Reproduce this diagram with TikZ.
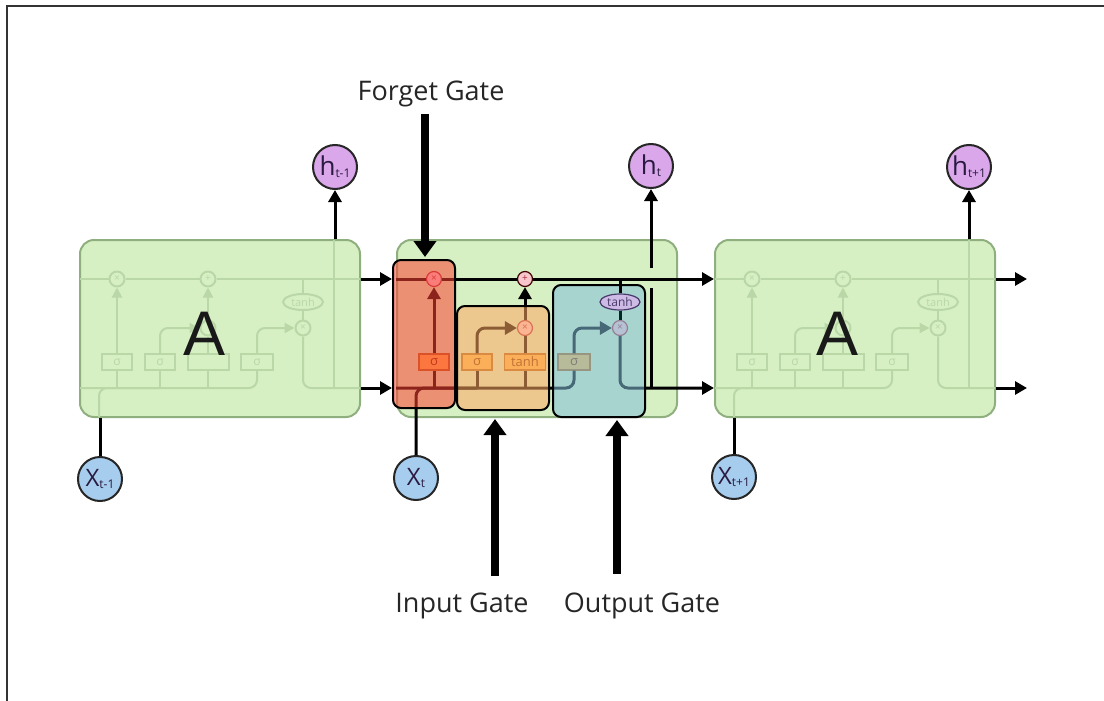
\documentclass[tikz,border=0pt]{standalone}
\usepackage{fontspec}
\setmainfont{Open Sans}
\newfontfamily\Afont{Liberation Sans}
\usetikzlibrary{arrows.meta,shapes.geometric,calc}

\definecolor{cellfill}{HTML}{D6F0C4}
\definecolor{cellline}{HTML}{8FAF7F}
\definecolor{faintcol}{HTML}{BAD7A7}
\definecolor{hpurple}{HTML}{D9A7EA}
\definecolor{xblue}{HTML}{A7CDEE}
\definecolor{oppink}{HTML}{F8C6CD}
\definecolor{opline}{HTML}{A8323F}
\definecolor{sigfill}{HTML}{F8B84E}
\definecolor{sigline}{HTML}{B0661A}
\definecolor{sigtext}{HTML}{7A3000}
\definecolor{tanhfill}{HTML}{CDBBE6}
\definecolor{tanhline}{HTML}{4A3A6C}
\definecolor{gred}{RGB}{255,66,52}
\definecolor{gorange}{RGB}{255,168,98}
\definecolor{gteal}{RGB}{131,190,218}
\definecolor{circtext}{HTML}{2A1A40}

\newcommand\subtxt[2]{#1\raisebox{-2pt}{\fontsize{12}{12}\selectfont #2}}

\tikzset{
  cellbox/.style={draw=cellline, fill=cellfill, line width=2pt, rounded corners=14pt,
    minimum width=280pt, minimum height=177pt, inner sep=0pt},
  conn/.style={line width=3pt, draw=black},
  arr/.style={conn, -{Triangle[length=12pt,width=13pt]}},
  gatearr/.style={line width=8pt, draw=black, -{Triangle[length=16pt,width=22pt]}},
  faint/.style={draw=faintcol, line width=2pt},
  faintarr/.style={faint, -{Triangle[length=10pt,width=10pt]}},
  hnode/.style={circle, draw=black!85, line width=2pt, fill=hpurple, minimum size=44pt,
    inner sep=0pt, text=circtext, font=\fontsize{26}{26}\selectfont},
  xnode/.style={circle, draw=black!85, line width=2pt, fill=xblue, minimum size=44pt,
    inner sep=0pt, text=circtext, font=\fontsize{24}{24}\selectfont},
  opnode/.style={circle, draw=opline, fill=oppink, line width=1.2pt, minimum size=15pt,
    inner sep=0pt, text=opline, font=\fontsize{10}{10}\selectfont},
  sigbox/.style={rectangle, draw=sigline, fill=sigfill, line width=1.2pt, minimum height=16pt,
    inner sep=0pt, text=sigtext, font=\fontsize{13}{13}\selectfont},
  tanhnode/.style={ellipse, draw=tanhline, fill=tanhfill, line width=1.2pt, minimum width=40pt,
    minimum height=16pt, inner sep=0pt, text=tanhline, font=\fontsize{12}{12}\selectfont},
  gatebox/.style={rectangle, rounded corners=8pt, draw=black, line width=2pt,
    fill opacity=0.55, draw opacity=1, inner sep=0pt},
  fopnode/.style={circle, faint, fill=cellfill, minimum size=15pt, inner sep=0pt,
    text=faintcol, font=\fontsize{10}{10}\selectfont},
  fsigbox/.style={rectangle, faint, fill=cellfill, minimum height=16pt, inner sep=0pt,
    text=faintcol, font=\fontsize{12}{12}\selectfont},
  fthnode/.style={ellipse, faint, fill=cellfill, minimum width=40pt, minimum height=16pt,
    inner sep=0pt, text=faintcol, font=\fontsize{11}{11}\selectfont},
  gatelabel/.style={font=\fontsize{27}{30}\selectfont, text=black!85, anchor=base},
  bigA/.style={font=\Afont\fontsize{63}{63}\selectfont, text=black!90},
}

\newcommand\ghostcell[1]{%
  \node[fopnode] (#1fm) at (434,279) {×};
  \node[fopnode] (#1pl) at (525,279) {+};
  \node[fopnode] (#1im) at (525,328) {};
  \node[fopnode] (#1om) at (620,328) {×};
  \node[fthnode] (#1th) at (620,302) {tanh};
  \node[fsigbox, minimum width=30pt] (#1s1) at (434,362) {σ};
  \node[fsigbox, minimum width=30pt] (#1s2) at (477,362) {σ};
  \node[fsigbox, minimum width=41pt] (#1s3) at (525,362) {};
  \node[fsigbox, minimum width=32pt] (#1s4) at (574,362) {σ};
  \coordinate (#1cw) at (397,279); \coordinate (#1ce) at (677,279);
  \coordinate (#1bw) at (397,388); \coordinate (#1be) at (677,388);
  \coordinate (#1xin) at (416,417); \coordinate (#1htop) at (651,240);
  \draw[faint] (#1cw) -- (#1fm) -- (#1pl) -- (#1ce);
  \draw[faint, rounded corners=8pt] (#1bw) -| (#1s4.south);
  \draw[faint] (#1s1.south |- #1bw) -- (#1s1.south);
  \draw[faintarr] (#1s1.north) -- (#1fm.south);
  \draw[faint] (#1s2.south |- #1bw) -- (#1s2.south);
  \draw[faintarr, rounded corners=8pt] (#1s2.north) |- (#1im.west);
  \draw[faint] (#1s3.south |- #1bw) -- (#1s3.south);
  \draw[faint] (#1s3.north) -- (#1im.south);
  \draw[faintarr] (#1im.north) -- (#1pl.south);
  \draw[faint] (#1th.north |- #1cw) -- (#1th.north);
  \draw[faint] (#1th.south) -- (#1om.north);
  \draw[faintarr, rounded corners=8pt] (#1s4.north) |- (#1om.west);
  \draw[faint, rounded corners=8pt] (#1om.south) |- (#1be);
  \draw[faint, rounded corners=8pt] (#1xin) |- (#1s2.south |- #1bw);
  \draw[faint] (#1htop) -- (#1htop |- #1bw);
}

\begin{document}
\begin{tikzpicture}[x=1pt, y=-1pt]
\useasboundingbox (0,0) rectangle (1104,701);

% frame
\coordinate (frBL) at (7,701);
\coordinate (frTL) at (7,6);
\coordinate (frTR) at (1104,6);
\draw[line width=2pt, black!80] (frBL) -- (frTL) -- (frTR);

% level coordinates
\coordinate (yc) at (0,279);
\coordinate (yb) at (0,388);

% cells
\node[cellbox] (cellL) at (220,328.5) {};
\node[cellbox] (cellM) at (537,328.5) {};
\node[cellbox] (cellR) at (855,328.5) {};

\begin{scope}[xshift=-317pt]
  \ghostcell{L}
\end{scope}
\begin{scope}[xshift=318pt]
  \ghostcell{R}
\end{scope}

\node[bigA] (Aleft) at (205,334) {A};
\node[bigA] (Aright) at (838,334) {A};

% middle cell elements
\node[opnode] (fmul) at (434,279) {×};
\node[opnode, draw=black!75!red] (plus) at (525,279) {+};
\node[opnode] (imul) at (525,328) {×};
\node[opnode] (omul) at (620,328) {×};
\node[sigbox, minimum width=30pt] (fsig) at (434,362) {σ};
\node[sigbox, minimum width=30pt] (isig) at (477,362) {σ};
\node[sigbox, minimum width=41pt] (itanh) at (525,362) {tanh};
\node[sigbox, minimum width=32pt] (osig) at (574,362) {σ};

% h / x nodes
\node[hnode] (hprev) at (335,167) {\subtxt{h}{t-1}};
\node[hnode] (ht) at (651,166) {\subtxt{h}{t}};
\node[hnode] (hnext) at (969,167) {\subtxt{h}{t+1}};
\node[xnode] (xprev) at (100,479) {\subtxt{X}{t-1}};
\node[xnode] (xt) at (416,478) {\subtxt{X}{t}};
\node[xnode] (xnext) at (734,477) {\subtxt{X}{t+1}};

\coordinate (hgapB) at (651,288);
\coordinate (hgapT) at (651,268);

\draw[conn] (cellM.west |- yc) -- (fmul);
\draw[conn] (fmul) -- (plus);
\draw[arr] (plus) -- (cellR.west |- yc);
\draw[conn, rounded corners=8pt] (cellM.west |- yb) -| (osig.south);
\draw[conn, rounded corners=8pt] (xt.north) |- (isig.south |- yb);
\draw[conn] (fsig.south |- yb) -- (fsig.south);
\draw[arr] (fsig.north) -- (fmul.south);
\draw[conn] (isig.south |- yb) -- (isig.south);
\draw[arr, rounded corners=8pt] (isig.north) |- (imul.west);
\draw[conn] (itanh.south |- yb) -- (itanh.south);
\draw[conn] (itanh.north) -- (imul.south);
\draw[arr] (imul.north) -- (plus.south);
\draw[arr, rounded corners=8pt] (osig.north) |- (omul.west);
\draw[arr, rounded corners=8pt] (omul.south) |- (cellR.west |- yb);
\draw[conn] (ht.south |- yb) -- (hgapB);
\draw[arr] (hgapT) -- (ht.south);

% gate boxes
\node[gatebox, fill=gred, minimum width=62pt, minimum height=148pt] (fgate) at (424,334) {};
\node[gatebox, fill=gorange, minimum width=92pt, minimum height=104pt] (igate) at (503,358) {};
\node[gatebox, fill=gteal, minimum width=92pt, minimum height=132pt] (ogate) at (599,351) {};

% output tanh on top of the output gate
\node[tanhnode] (oth) at (620,302) {tanh};
\draw[conn] (oth.north |- yc) -- (oth.north);
\draw[conn, draw=black!70!teal] (oth.south) -- (omul.north);

% arrows between cells
\coordinate (outC) at (1027,279);
\coordinate (outB) at (1027,388);
\draw[arr] (cellL.east |- yc) -- (fgate.west |- yc);
\draw[arr] (cellL.east |- yb) -- (fgate.west |- yb);
\draw[arr] (cellR.east |- yc) -- (outC);
\draw[arr] (cellR.east |- yb) -- (outB);

\draw[arr] (hprev |- cellL.north) -- (hprev.south);
\draw[arr] (hnext |- cellR.north) -- (hnext.south);
\draw[conn] (xprev.north) -- (xprev.north |- cellL.south);
\draw[conn] (xnext.north) -- (xnext.north |- cellR.south);

% gate labels
\node[gatelabel] (fglab) at (431,100) {Forget Gate};
\node[gatelabel] (iglab) at (462,612) {Input Gate};
\node[gatelabel] (oglab) at (642,612) {Output Gate};
\coordinate (fstart) at (425,114);
\coordinate (ftip) at (425,257);
\coordinate (istart) at (495,576);
\coordinate (itip) at (495,419);
\coordinate (ostart) at (617,574);
\coordinate (otip) at (617,420);
\draw[gatearr] (fstart) -- (ftip);
\draw[gatearr] (istart) -- (itip);
\draw[gatearr] (ostart) -- (otip);
\end{tikzpicture}
\end{document}
